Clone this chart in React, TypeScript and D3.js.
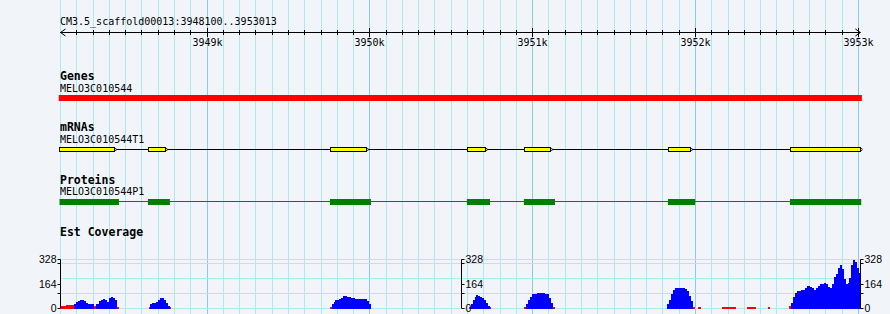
import React from "react";
import * as d3 from "d3";

const W = 890;
const H = 314;

const REF_NAME = "CM3.5_scaffold00013";
const VIEW_START = 3948100;
const VIEW_END = 3953013;
const GRID_STEP = 100;
const MAJOR_STEP = 1000;

const TRACK_LABELS = ["Genes", "mRNAs", "Proteins", "Est Coverage"];
const GENE_NAME = "MELO3C010544";
const MRNA_NAME = "MELO3C010544T1";
const PROT_NAME = "MELO3C010544P1";

const GENE_SPAN: [number, number] = [3948088, 3953022];

const EXONS: [number, number][] = [
  [3948088, 3948441],
  [3948637, 3948754],
  [3949757, 3949990],
  [3950598, 3950717],
  [3950948, 3951120],
  [3951833, 3951980],
  [3952582, 3953022],
];

const CDS: [number, number][] = [
  [3948094, 3948459],
  [3948637, 3948772],
  [3949755, 3950007],
  [3950596, 3950738],
  [3950946, 3951137],
  [3951831, 3951998],
  [3952580, 3953018],
];

const COV_BIN = 12;
const COV_MAX = 328;
const COV_TICKS = [0, 100, 164, 300, 328];
const COV_TICK_LABELS = [0, 164, 328];
const COV_GRID = [0, 100, 200, 300, 328];
const COV_AXIS_POSITIONS = [3948100, 3950560, 3953013];

const PEAK_A_START = 3948183;
const PEAK_A = [31, 42, 47, 54, 54, 47, 38, 31, 31, 31, 0, 31, 31, 48, 58, 65, 54, 42, 70, 78, 72, 54];
const PEAK_B_START = 3948650;
const PEAK_B = [27, 35, 40, 45, 58, 72, 67, 54, 35, 20];
const PEAK_C_START = 3949765;
const PEAK_C = [30, 45, 56, 57, 62, 72, 87, 85, 80, 75, 73, 72, 65, 62, 62, 62, 62, 66, 52, 33];
const PEAK_D_START = 3950619;
const PEAK_D = [29, 56, 78, 89, 87, 80, 72, 56, 38, 18];
const PEAK_E_START = 3950957;
const PEAK_E = [33, 56, 78, 94, 97, 100, 102, 102, 102, 102, 100, 94, 72, 38];
const PEAK_F_START = 3951826;
const PEAK_F = [27, 60, 97, 127, 138, 134, 138, 134, 138, 132, 114, 87, 47];
const PEAK_G_START = 3952586;
const PEAK_G = [
  40, 80, 107, 114, 118, 124, 127, 140, 149, 149, 145, 134, 127, 134, 149, 161, 167, 174,
  161, 145, 134, 164, 212, 234, 274, 290, 262, 200, 163, 174, 201, 290, 328, 310, 270, 240,
];

const COV_PEAKS: { start: number; values: number[] }[] = [
  { start: PEAK_A_START, values: PEAK_A },
  { start: PEAK_B_START, values: PEAK_B },
  { start: PEAK_C_START, values: PEAK_C },
  { start: PEAK_D_START, values: PEAK_D },
  { start: PEAK_E_START, values: PEAK_E },
  { start: PEAK_F_START, values: PEAK_F },
  { start: PEAK_G_START, values: PEAK_G },
];

// low coverage segments drawn in red: [start, end, value]
const COV_LOW: [number, number, number][] = [
  [3948100, 3948134, 18],
  [3948134, 3948183, 22],
  [3948303, 3948315, 20],
  [3948447, 3948459, 10],
  [3948644, 3948650, 10],
  [3948770, 3948776, 10],
  [3949755, 3949765, 10],
  [3950610, 3950619, 10],
  [3950739, 3950745, 10],
  [3950947, 3950957, 10],
  [3951125, 3951137, 10],
  [3951984, 3951997, 11],
  [3952013, 3952032, 9],
  [3952162, 3952248, 9],
  [3952318, 3952371, 9],
  [3952447, 3952457, 9],
  [3952574, 3952586, 15],
];

const BG = "#f1f5fa";
const MINOR_GRID = "#abebf0";
const MAJOR_GRID = "#8ccbe6";
const MONO = "'DejaVu Sans Mono', monospace";
const SANS = "'Liberation Sans', Arial, sans-serif";

export default function App() {
  const x = d3.scaleLinear().domain([VIEW_START, VIEW_END]).range([60.5, 860.4]);
  const yc = d3.scaleLinear().domain([0, COV_MAX]).range([308.5, 259.5]);
  const px = (v: number) => Math.floor(x(v)) + 0.5;

  const gridPos = d3.range(VIEW_START, VIEW_END, GRID_STEP);
  const rulerTicks = gridPos.filter((d) => d > VIEW_START);
  const majors = gridPos.filter((d) => d % MAJOR_STEP === 0);

  const area = d3
    .area<[number, number]>()
    .x((d) => x(d[0]))
    .y0(yc(0))
    .y1((d) => yc(d[1]))
    .curve(d3.curveStepAfter);

  const peakPaths = COV_PEAKS.map((p) => {
    const pts: [number, number][] = p.values.map((v, i) => [p.start + i * COV_BIN, v]);
    pts.push([p.start + p.values.length * COV_BIN, p.values[p.values.length - 1]]);
    return area(pts) as string;
  });

  const rulerY = 32.5;

  return (
    <svg
      width={W}
      height={H}
      style={{ position: "absolute", left: 0, top: 0, display: "block" }}
      fontFamily={MONO}
    >
      <rect x={0} y={0} width={W} height={H} fill={BG} />
      <defs>
        <clipPath id="view">
          <rect x={58.5} y={0} width={804} height={H} />
        </clipPath>
      </defs>

      {/* vertical grid */}
      {gridPos.map((d) => (
        <line
          key={"g" + d}
          x1={px(d)}
          x2={px(d)}
          y1={0}
          y2={H}
          stroke={d % MAJOR_STEP === 0 ? MAJOR_GRID : MINOR_GRID}
          strokeWidth={1}
        />
      ))}

      {/* ruler */}
      <text x={60} y={24.5} fontSize={10} fill="#000">
        {`${REF_NAME}:${VIEW_START}..${VIEW_END}`}
      </text>
      <line x1={x(VIEW_START)} x2={x(VIEW_END)} y1={rulerY} y2={rulerY} stroke="#000" strokeWidth={1} />
      <polyline
        points={`${x(VIEW_START) + 5},${rulerY - 3.5} ${x(VIEW_START)},${rulerY} ${x(VIEW_START) + 5},${rulerY + 3.5}`}
        fill="none"
        stroke="#000"
      />
      <polyline
        points={`${x(VIEW_END) - 5},${rulerY - 3.5} ${x(VIEW_END)},${rulerY} ${x(VIEW_END) - 5},${rulerY + 3.5}`}
        fill="none"
        stroke="#000"
      />
      {rulerTicks.map((d) => {
        const isMajor = d % MAJOR_STEP === 0;
        return (
          <line
            key={"t" + d}
            x1={px(d)}
            x2={px(d)}
            y1={isMajor ? rulerY - 4.5 : rulerY - 2.5}
            y2={isMajor ? rulerY + 4.5 : rulerY + 2.5}
            stroke="#000"
          />
        );
      })}
      {majors.map((d) => (
        <text key={"l" + d} x={px(d)} y={46} fontSize={10} textAnchor="middle" fill="#000">
          {`${d / 1000}k`}
        </text>
      ))}

      {/* Genes */}
      <text x={60} y={79.5} fontSize={11.5} fontWeight="bold" fill="#000">
        {TRACK_LABELS[0]}
      </text>
      <text x={60} y={91.5} fontSize={10} fill="#000">
        {GENE_NAME}
      </text>
      <g clipPath="url(#view)">
        <rect x={x(GENE_SPAN[0])} y={95} width={x(GENE_SPAN[1]) - x(GENE_SPAN[0])} height={6} fill="#ff0000" />
      </g>

      {/* mRNAs */}
      <text x={60} y={131} fontSize={11.5} fontWeight="bold" fill="#000">
        {TRACK_LABELS[1]}
      </text>
      <text x={60} y={142.5} fontSize={10} fill="#000">
        {MRNA_NAME}
      </text>
      <g clipPath="url(#view)">
        <line
          x1={x(EXONS[0][1])}
          x2={x(EXONS[EXONS.length - 1][0])}
          y1={149.5}
          y2={149.5}
          stroke="#000"
          strokeWidth={1}
        />
        {EXONS.map(([s, e], i) => {
          const x0 = Math.round(x(s)) + 0.5;
          const x1 = Math.round(x(e)) - 1.5;
          return (
            <g key={"ex" + i}>
              <path d={`M${x1},148 L${x1 + 2.5},149.5 L${x1},151 Z`} fill="#ffff00" stroke="#000" strokeWidth={0.8} />
              <rect x={x0} y={147.5} width={x1 - x0} height={4} fill="#ffff00" stroke="#000" strokeWidth={1} />
            </g>
          );
        })}
      </g>

      {/* Proteins */}
      <text x={60} y={183.5} fontSize={11.5} fontWeight="bold" fill="#000">
        {TRACK_LABELS[2]}
      </text>
      <text x={60} y={195} fontSize={10} fill="#000">
        {PROT_NAME}
      </text>
      <g clipPath="url(#view)">
        <line
          x1={x(CDS[0][1])}
          x2={x(CDS[CDS.length - 1][0])}
          y1={201.5}
          y2={201.5}
          stroke="#008000"
          strokeWidth={1}
        />
        {CDS.map(([s, e], i) => (
          <rect key={"cds" + i} x={x(s)} y={199} width={x(e) - x(s)} height={6} fill="#008000" />
        ))}
      </g>

      {/* Est Coverage */}
      <text x={60} y={235.5} fontSize={11.5} fontWeight="bold" fill="#000">
        {TRACK_LABELS[3]}
      </text>
      {COV_GRID.map((v) => (
        <line
          key={"hg" + v}
          x1={x(VIEW_START)}
          x2={x(VIEW_END)}
          y1={Math.floor(yc(v)) + 0.5}
          y2={Math.floor(yc(v)) + 0.5}
          stroke={MINOR_GRID}
          strokeWidth={1}
        />
      ))}
      <g clipPath="url(#view)" shapeRendering="crispEdges">
        {peakPaths.map((d, i) => (
          <path key={"pk" + i} d={d} fill="#0000ff" />
        ))}
        {COV_LOW.map(([s, e, v], i) => (
          <rect key={"lo" + i} x={x(s)} y={yc(v)} width={x(e) - x(s)} height={yc(0) - yc(v)} fill="#ff0000" />
        ))}
      </g>
      {COV_AXIS_POSITIONS.map((p, ai) => {
        const ax = px(p);
        const left = ai === 0;
        const dir = left ? -1 : 1;
        return (
          <g key={"ax" + ai}>
            <line x1={ax} x2={ax} y1={Math.floor(yc(COV_MAX)) + 0.5} y2={Math.floor(yc(0)) + 0.5} stroke="#000" />
            {COV_TICKS.map((t) => (
              <line
                key={"at" + t}
                x1={ax}
                x2={ax + dir * 3}
                y1={Math.floor(yc(t)) + 0.5}
                y2={Math.floor(yc(t)) + 0.5}
                stroke="#000"
              />
            ))}
            {COV_TICK_LABELS.map((t) => (
              <text
                key={"al" + t}
                x={ax + dir * 4}
                y={yc(t) + 3.8}
                fontSize={10.5}
                fontFamily={SANS}
                textAnchor={left ? "end" : "start"}
                fill="#000"
              >
                {t}
              </text>
            ))}
          </g>
        );
      })}
    </svg>
  );
}
